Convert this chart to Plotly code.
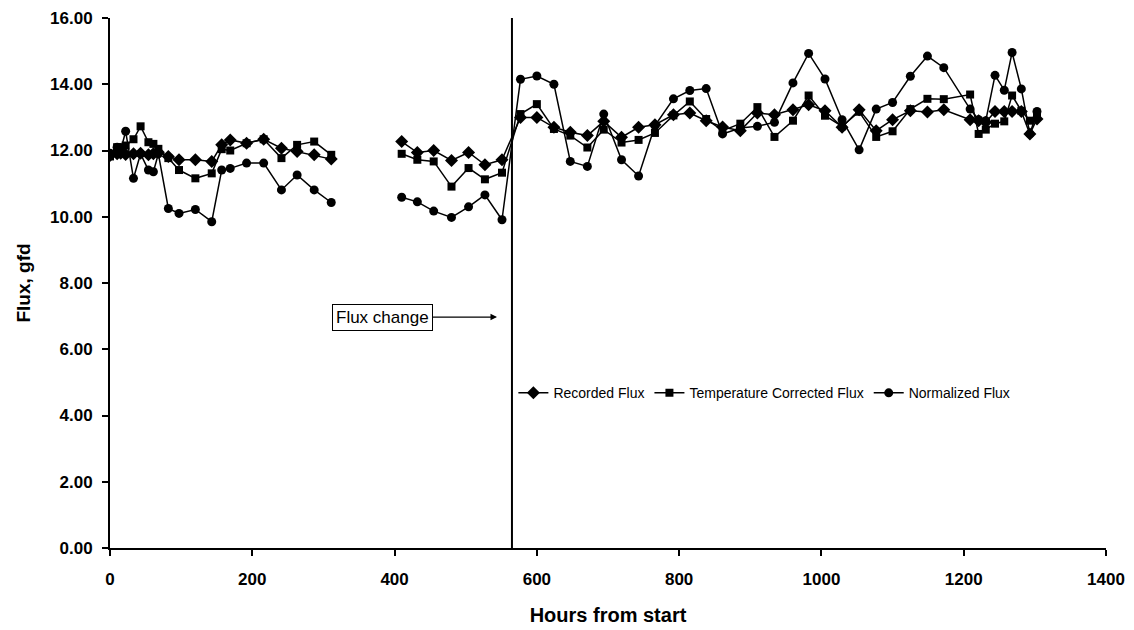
import plotly.graph_objects as go

# ---- data (hours from start) ----
hours = [0, 10, 15, 22, 33, 43, 54, 61, 68, 82, 97, 120, 143, 157, 169, 192, 216, 241, 263, 287, 311,
         None,
         410, 432, 455, 480, 504, 527, 551,
         577, 600, 624, 647, 671, 694, 719, 743, 766, 792, 815, 838, 861, 886, 910, 934, 960, 982,
         1005, 1029, 1053, 1077, 1100, 1125, 1149, 1172, 1209, 1221, 1231, 1244, 1257, 1268, 1281, 1293, 1303]

recorded = [11.85, 11.9, 11.92, 11.88, 11.9, 11.92, 11.87, 11.9, 11.95, 11.82, 11.72, 11.72, 11.67, 12.17, 12.32, 12.22, 12.34, 12.07, 11.97, 11.87, 11.74,
            None,
            12.27, 11.94, 12.0, 11.70, 11.94, 11.57, 11.72,
            13.0, 13.0, 12.7, 12.55, 12.45, 12.88, 12.4, 12.70, 12.78, 13.08, 13.13, 12.9, 12.71, 12.6, 13.13, 13.08, 13.23, 13.38,
            13.2, 12.7, 13.23, 12.6, 12.93, 13.2, 13.16, 13.23, 12.93, 12.9, 12.85, 13.18, 13.18, 13.18, 13.18, 12.5, 12.95]

temp_corrected = [11.82, 12.1, 12.1, 12.15, 12.34, 12.73, 12.25, 12.2, 12.05, 11.77, 11.41, 11.16, 11.31, 12.04, 12.0, 12.22, 12.34, 11.77, 12.17, 12.27, 11.87,
                  None,
                  11.9, 11.72, 11.67, 10.91, 11.47, 11.13, 11.33,
                  13.1, 13.4, 12.65, 12.45, 12.09, 12.63, 12.24, 12.32, 12.53, 13.06, 13.48, 12.95, 12.6, 12.81, 13.31, 12.41, 12.9, 13.66,
                  13.05, 12.73, 13.17, 12.41, 12.58, 13.25, 13.56, 13.55, 13.69, 12.5, 12.63, 12.81, 12.88, 13.66, 13.2, 12.9, 13.1]

normalized = [11.92, 12.1, 12.0, 12.58, 11.16, 11.9, 11.41, 11.36, 11.9, 10.25, 10.10, 10.22, 9.85, 11.41, 11.46, 11.62, 11.62, 10.81, 11.26, 10.81, 10.43,
              None,
              10.59, 10.45, 10.17, 9.98, 10.30, 10.66, 9.91,
              14.15, 14.25, 14.0, 11.67, 11.52, 13.10, 11.72, 11.23, 12.75, 13.56, 13.81, 13.87, 12.5, 12.68, 12.73, 12.85, 14.04, 14.93,
              14.16, 12.93, 12.02, 13.25, 13.45, 14.24, 14.85, 14.50, 13.25, 12.93, 12.9, 14.27, 13.82, 14.96, 13.86, 12.5, 13.18]

flux_change_hour = 565
x_ticks = [0, 200, 400, 600, 800, 1000, 1200, 1400]
y_ticks = [0, 2, 4, 6, 8, 10, 12, 14, 16]

FONT = "Liberation Sans, Arial, sans-serif"

fig = go.Figure()
series = [
    ("Recorded Flux", recorded, "diamond", 10),
    ("Temperature Corrected Flux", temp_corrected, "square", 8),
    ("Normalized Flux", normalized, "circle", 9),
]
for name, vals, sym, size in series:
    fig.add_trace(go.Scatter(
        x=hours, y=vals, name=name, mode="lines+markers",
        line=dict(color="black", width=1.5),
        marker=dict(symbol=sym, size=size, color="black"),
        connectgaps=False,
    ))

fig.add_shape(type="line", xref="x", yref="y",
              x0=flux_change_hour, x1=flux_change_hour, y0=0, y1=16.2,
              line=dict(color="black", width=2))

fig.add_annotation(x=544, y=6.97, xref="x", yref="y",
                   text="Flux change", showarrow=True, arrowhead=2, arrowsize=1,
                   arrowwidth=1.3, arrowcolor="black",
                   ax=-115, ay=0,
                   bordercolor="black", borderwidth=1, borderpad=3,
                   bgcolor="white",
                   font=dict(family=FONT, size=17, color="black"))

fig.update_layout(
    width=1134, height=630,
    margin=dict(l=110, r=28, t=18, b=82),
    paper_bgcolor="white", plot_bgcolor="white",
    font=dict(family=FONT, color="black"),
    showlegend=True,
    legend=dict(orientation="h", x=0.405, y=0.292, xanchor="left", yanchor="middle",
                font=dict(family=FONT, size=14, color="black"),
                bgcolor="rgba(0,0,0,0)", itemwidth=30, tracegroupgap=0),
    xaxis=dict(range=[0, 1400], tickvals=x_ticks, ticktext=[str(v) for v in x_ticks],
               showgrid=False, zeroline=False, showline=True, linecolor="black", linewidth=2,
               ticks="outside", ticklen=6, tickwidth=2, tickcolor="black", automargin=False,
               tickfont=dict(family=FONT, size=17, color="black", weight="bold"),
               ticklabelstandoff=9,
               title=dict(text="<b>Hours from start</b>", font=dict(family=FONT, size=20, color="black"), standoff=20)),
    yaxis=dict(range=[0, 16], tickvals=y_ticks, ticktext=[f"{v:.2f}" for v in y_ticks],
               showgrid=False, zeroline=False, showline=True, linecolor="black", linewidth=2,
               ticks="outside", ticklen=6, tickwidth=2, tickcolor="black", automargin=False,
               tickfont=dict(family=FONT, size=17, color="black", weight="bold"),
               ticklabelstandoff=6,
               title=dict(text="<b>Flux, gfd</b>", font=dict(family=FONT, size=19, color="black"), standoff=14)),
)

fig.write_html("out.html")
